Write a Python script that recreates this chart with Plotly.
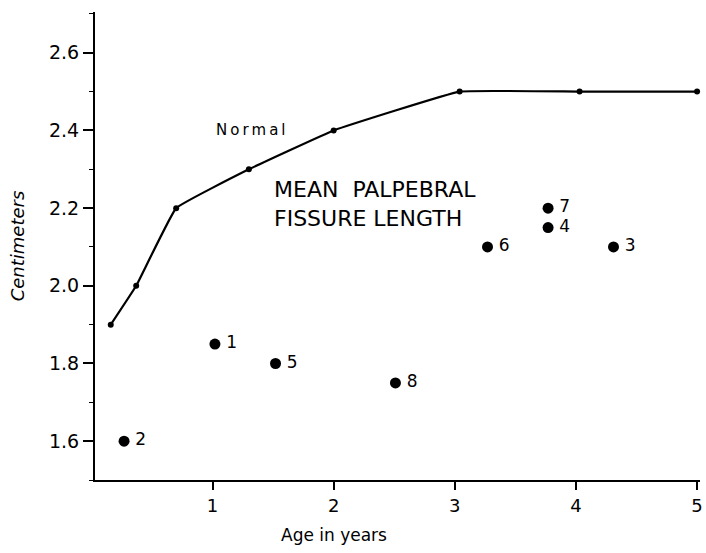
import plotly.graph_objects as go

# Normal curve (age in years, cm)
normal_age = [0.16, 0.37, 0.70, 1.30, 2.0, 3.04, 4.03, 5.0]
normal_len = [1.9, 2.0, 2.2, 2.3, 2.4, 2.5, 2.5, 2.5]

# Patients
patient_id = ["1", "2", "3", "4", "5", "6", "7", "8"]
patient_age = [1.02, 0.27, 4.31, 3.77, 1.52, 3.27, 3.77, 2.51]
patient_len = [1.85, 1.6, 2.1, 2.15, 1.8, 2.1, 2.2, 1.75]

x_ticks = [1, 2, 3, 4, 5]
y_ticks = [1.6, 1.8, 2.0, 2.2, 2.4, 2.6]
y_tick_text = ["1.6", "1.8", "2.0", "2.2", "2.4", "2.6"]

FONT = "DejaVu Sans"

fig = go.Figure()
fig.add_trace(go.Scatter(
    x=normal_age, y=normal_len, mode="lines+markers",
    line=dict(color="black", width=2.2, shape="spline", smoothing=0.25),
    marker=dict(color="black", size=6),
    cliponaxis=False, showlegend=False, hoverinfo="skip"))
fig.add_trace(go.Scatter(
    x=patient_age, y=patient_len, mode="markers+text",
    marker=dict(color="black", size=11),
    text=["\u2009" + t for t in patient_id], textposition="middle right",
    textfont=dict(family=FONT, size=17, color="black"),
    cliponaxis=False, showlegend=False, hoverinfo="skip"))

fig.add_annotation(x=1.32, y=2.4, xref="x", yref="y",
                   text="\u2009".join("Normal"),
                   showarrow=False, font=dict(family=FONT, size=15, color="black"))
fig.add_annotation(x=2.34, y=2.21, xref="x", yref="y",
                   text="MEAN  PALPEBRAL<br>FISSURE LENGTH",
                   showarrow=False, align="left", xanchor="center",
                   font=dict(family=FONT, size=22, color="black"))
fig.add_annotation(x=2.0, y=-0.118, xref="x", yref="paper", yanchor="middle",
                   text="Age in years", showarrow=False,
                   font=dict(family=FONT, size=17, color="black"))

fig.update_layout(
    width=706, height=553,
    margin=dict(l=95, r=3, t=12, b=73),
    paper_bgcolor="white", plot_bgcolor="white",
    font=dict(family=FONT, color="black"),
    xaxis=dict(range=[0.03, 5.024], tickmode="array", tickvals=x_ticks,
               ticks="outside", ticklen=8, tickwidth=1.5, tickcolor="black",
               showline=True, linecolor="black", linewidth=2,
               showgrid=False, zeroline=False,
               tickfont=dict(family=FONT, size=18)),
    yaxis=dict(range=[1.5, 2.705], tickmode="array", tickvals=y_ticks, ticktext=y_tick_text,
               ticks="outside", ticklen=10, tickwidth=1.5, tickcolor="black",
               minor=dict(dtick=0.1, tick0=1.5, ticks="outside", ticklen=4, tickcolor="black", tickwidth=1.2),
               showline=True, linecolor="black", linewidth=2,
               showgrid=False, zeroline=False,
               tickfont=dict(family=FONT, size=19),
               title=dict(text="<i>Centimeters</i>", font=dict(family=FONT, size=18), standoff=20)),
)

fig.write_html("out.html", config={"displayModeBar": False},
               post_script="document.body.style.margin='0px';document.body.style.overflow='hidden';")
